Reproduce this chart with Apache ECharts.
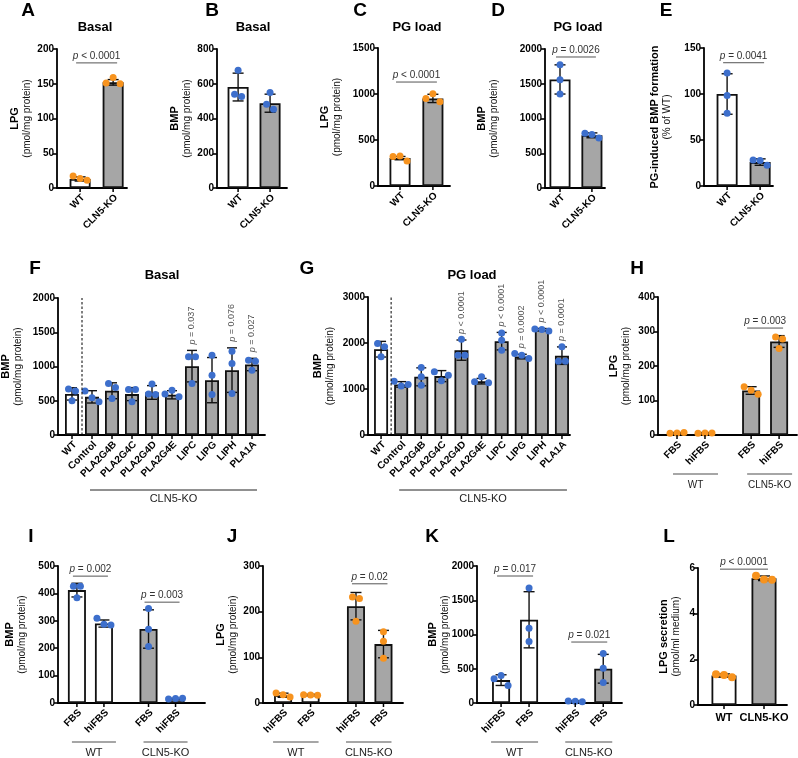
<!DOCTYPE html>
<html><head><meta charset="utf-8">
<script src="https://cdn.jsdelivr.net/npm/echarts@6/dist/echarts.min.js"></script>
<style>html,body{margin:0;padding:0;background:#fff}#c{width:798px;height:758px}</style>
</head><body><div id="c"></div>
<script>
// ---------------- DATA ----------------
const catsA = ['WT', 'CLN5-KO'];
const meanA = [13, 152];
const sdA = [3, 4];
const ptsA = [[17.3, 13.5, 11.1], [151, 159, 150]];
const brA = [[0, 1, 180, 'p < 0.0001']];

const catsB = ['WT', 'CLN5-KO'];
const meanB = [581, 488];
const sdB = [80, 52];
const ptsB = [[677, 540, 526], [549, 482, 453]];

const catsC = ['WT', 'CLN5-KO'];
const meanC = [303, 952];
const sdC = [18, 45];
const ptsC = [[320, 327, 272], [951, 1002, 915]];
const brC = [[0, 1, 1130, 'p < 0.0001']];

const catsD = ['WT', 'CLN5-KO'];
const meanD = [1562, 758];
const sdD = [210, 35];
const ptsD = [[1774, 1557, 1354], [786, 771, 718]];
const brD = [[0, 1, 1885, 'p = 0.0026']];

const catsE = ['WT', 'CLN5-KO'];
const meanE = [100, 26];
const sdE = [22, 3.5];
const ptsE = [[122.8, 98.5, 79.2], [28.3, 27.6, 22.5]];
const brE = [[0, 1, 134, 'p = 0.0041']];

const catsF = ['WT', 'Control', 'PLA2G4B', 'PLA2G4C', 'PLA2G4D', 'PLA2G4E', 'LIPC', 'LIPG', 'LIPH', 'PLA1A'];
const meanF = [600, 557, 646, 597, 621, 587, 1005, 801, 947, 1029];
const sdF = [90, 90, 116, 95, 100, 60, 230, 330, 325, 90];
const ptsF = [[670, 500, 641], [641, 544, 485], [752, 694, 534], [665, 665, 485], [743, 597, 592],
              [597, 655, 558], [1141, 1141, 752], [1165, 874, 592], [1223, 1044, 607], [1092, 1078, 947]];
const pF = ['', '', '', '', '', '', 'p = 0.037', '', 'p = 0.076', 'p = 0.027'];

const catsG = ['WT', 'Control', 'PLA2G4B', 'PLA2G4C', 'PLA2G4D', 'PLA2G4E', 'LIPC', 'LIPG', 'LIPH', 'PLA1A'];
const meanG = [1865, 1100, 1265, 1280, 1845, 1170, 2040, 1705, 2290, 1725];
const sdG = [170, 60, 195, 120, 220, 60, 190, 50, 25, 190];
const ptsG = [[1988, 1916, 1699], [1171, 1063, 1099], [1467, 1265, 1084], [1373, 1178, 1301], [2082, 1735, 1735],
              [1157, 1265, 1135], [2219, 2060, 1843], [1771, 1735, 1663], [2306, 2292, 2263], [1916, 1605, 1605]];
const pG = ['', '', '', '', 'p < 0.0001', '', 'p < 0.0001', 'p = 0.0002', 'p < 0.0001', 'p = 0.0001'];

const catsH = ['FBS', 'hiFBS', 'FBS', 'hiFBS'];
const meanH = [6, 6, 129, 271];
const sdH = [1, 1, 11, 17];
const ptsH = [[5, 6, 7], [5, 6, 6], [140, 130, 118], [284, 278, 251]];
const brH = [[2, 3, 310, 'p = 0.003']];

const catsI = ['FBS', 'hiFBS', 'FBS', 'hiFBS'];
const meanI = [412, 290, 270, 16];
const sdI = [25, 13, 70, 1];
const ptsI = [[426, 426, 384], [309, 287, 285], [345, 269, 206], [15, 16, 17]];
const brI = [[0, 1, 463, 'p = 0.002'], [2, 3, 368, 'p = 0.003']];

const catsJ = ['hiFBS', 'FBS', 'hiFBS', 'FBS'];
const meanJ = [17, 18, 212, 129];
const sdJ = [4.5, 1, 30, 30];
const ptsJ = [[22, 18, 13], [18, 17.4, 16.7], [232, 229, 179], [156, 135, 98]];
const brJ = [[2, 3, 261, 'p = 0.02']];

const catsK = ['hiFBS', 'FBS', 'hiFBS', 'FBS'];
const meanK = [334, 1215, 25, 500];
const sdK = [78, 410, 5, 210];
const ptsK = [[354, 402, 257], [1680, 1090, 896], [30, 25, 20], [722, 508, 300]];
const brK = [[0, 1, 1854, 'p = 0.017'], [2, 3, 890, 'p = 0.021']];

const catsL = ['WT', 'CLN5-KO'];
const meanL = [1.29, 5.55];
const sdL = [0.07, 0.1];
const ptsL = [[1.35, 1.31, 1.21], [5.66, 5.50, 5.49]];
const brL = [[0, 1, 5.95, 'p < 0.0001']];

const groupsFG = [[1, 9, 'CLN5-KO']];
const groupsHK = [[0, 1, 'WT'], [2, 3, 'CLN5-KO']];

// ---------------- STYLE / LAYOUT ----------------
const FONT = 'Liberation Sans, Arial, Helvetica, sans-serif';
const WHITE = '#ffffff', GRAY = '#a6a6a6', ORANGE = '#f7931e', BLUE = '#3d6fcc';
const GROUP_GAP = 2.65;
const AXW = 1.8;
const nm = (b, n) => '{b|' + b + '}\n{n|' + n + '}';
const PM = '(pmol/mg protein)';

const panels = [
  {grid:[57,49,70,139], ymax:200, yint:50, xr:[-0.7,1.42], barW:21, cap:11, gap:23, name:nm('LPG',PM), cats:catsA, mean:meanA, sd:sdA, pts:ptsA, br:brA, fills:[WHITE,GRAY], dot:ORANGE},
  {grid:[217,49,70,139], ymax:800, yint:200, xr:[-0.66,1.53], barW:21, cap:11, gap:23, name:nm('BMP',PM), cats:catsB, mean:meanB, sd:sdB, pts:ptsB, fills:[WHITE,GRAY], dot:BLUE},
  {grid:[378,48,72,138], ymax:1500, yint:500, xr:[-0.67,1.52], barW:21, cap:11, gap:34, name:nm('LPG',PM), cats:catsC, mean:meanC, sd:sdC, pts:ptsC, br:brC, fills:[WHITE,GRAY], dot:ORANGE},
  {grid:[545,49,60,139], ymax:2000, yint:500, xr:[-0.47,1.41], barW:21, cap:11, gap:44, name:nm('BMP',PM), cats:catsD, mean:meanD, sd:sdD, pts:ptsD, br:brD, fills:[WHITE,GRAY], dot:BLUE},
  {grid:[704,48,69,138], ymax:150, yint:50, xr:[-0.70,1.39], barW:21, cap:11, gap:30, name:nm('PG-induced BMP formation','(% of WT)'), cats:catsE, mean:meanE, sd:sdE, pts:ptsE, br:brE, fills:[WHITE,GRAY], dot:BLUE},
  {grid:[58,298,207,137], ymax:2000, yint:500, xr:[-0.7,9.65], barW:14, cap:10, gap:33, name:nm('BMP',PM), cats:catsF, mean:meanF, sd:sdF, pts:ptsF, vp:pF, divider:true, groups:groupsFG, gstyle:'fg', fills:[WHITE].concat(Array(9).fill(GRAY)), dot:BLUE},
  {grid:[368,297,202,138], ymax:3000, yint:1000, xr:[-0.65,9.4], barW:14, cap:10, gap:31, name:nm('BMP',PM), cats:catsG, mean:meanG, sd:sdG, pts:ptsG, vp:pG, divider:true, groups:groupsFG, gstyle:'fg', fills:[WHITE].concat(Array(9).fill(GRAY)), dot:BLUE},
  {grid:[658,297,139,138], ymax:400, yint:100, xr:[-0.68,4.29], barW:18, cap:11, gap:25, name:nm('LPG',PM), cats:catsH, mean:meanH, sd:sdH, pts:ptsH, br:brH, grouped:true, groups:groupsHK, gstyle:'hk', gfont:10, gpad:[-4,13], fills:[WHITE,WHITE,GRAY,GRAY], dot:ORANGE},
  {grid:[58,566,147,137], ymax:500, yint:100, xr:[-0.7,4.74], barW:18, cap:11, gap:29, name:nm('BMP',PM), cats:catsI, mean:meanI, sd:sdI, pts:ptsI, br:brI, grouped:true, groups:groupsHK, gstyle:'hk', gfont:11, gpad:[-5,12], fills:[WHITE,WHITE,GRAY,GRAY], dot:BLUE},
  {grid:[263,566,140,137], ymax:300, yint:100, xr:[-0.73,4.36], barW:18, cap:11, gap:23, name:nm('LPG',PM), cats:catsJ, mean:meanJ, sd:sdJ, pts:ptsJ, br:brJ, grouped:true, groups:groupsHK, gstyle:'hk', gfont:11, gpad:[-10,8], fills:[WHITE,WHITE,GRAY,GRAY], dot:ORANGE},
  {grid:[477,566,145,137], ymax:2000, yint:500, xr:[-0.86,4.32], barW:18, cap:11, gap:25, name:nm('BMP',PM), cats:catsK, mean:meanK, sd:sdK, pts:ptsK, br:brK, grouped:true, groups:groupsHK, gstyle:'hk', gfont:11, gpad:[-10,9], fills:[WHITE,WHITE,GRAY,GRAY], dot:BLUE},
  {grid:[698,568,89,137], ymax:6, yint:2, xr:[-0.65,1.575], barW:25, cap:12, gap:15, name:nm('LPG secretion','(pmol/ml medium)'), cats:catsL, mean:meanL, sd:sdL, pts:ptsL, br:brL, flat:true, fills:[WHITE,GRAY], dot:ORANGE, dotR:4}
];

panels.forEach(P => {
  P.xs = P.cats.map((c, i) => P.grouped ? Math.floor(i / 2) * GROUP_GAP + (i % 2) : i);
  P.dotR = P.dotR || 3.5;
});

function clusterOffsets(pys, thr, d) {
  const idx = pys.map((y, i) => i).sort((a, b) => pys[a] - pys[b]);
  const clusters = []; let cur = [idx[0]];
  for (let k = 1; k < idx.length; k++) {
    if (pys[idx[k]] - pys[idx[k - 1]] < thr) cur.push(idx[k]); else { clusters.push(cur); cur = [idx[k]]; }
  }
  clusters.push(cur);
  const off = new Array(pys.length).fill(0);
  clusters.forEach(c => { c.sort((a, b) => a - b); c.forEach((ii, k) => { off[ii] = (k - (c.length - 1) / 2) * d; }); });
  return off;
}

function pRich(t) { return '{i|p}' + t.slice(1); }

function errPtsRender(P) {
  return function (params, api) {
    const i = params.dataIndex;
    const x = api.value(0), m = api.value(1), s = api.value(2);
    const top = api.coord([x, m + s]), bot = api.coord([x, Math.max(0, m - s)]);
    const cw = P.cap / 2;
    const ls = {stroke: '#111', lineWidth: 1.4};
    const ch = [
      {type: 'line', shape: {x1: top[0], y1: top[1], x2: bot[0], y2: bot[1]}, style: ls},
      {type: 'line', shape: {x1: top[0] - cw, y1: top[1], x2: top[0] + cw, y2: top[1]}, style: ls},
      {type: 'line', shape: {x1: bot[0] - cw, y1: bot[1], x2: bot[0] + cw, y2: bot[1]}, style: ls}
    ];
    const pts = P.pts[i];
    const pys = pts.map(v => api.coord([x, v])[1]);
    const d = P.dotR * 2;
    const offs = clusterOffsets(pys, d * 0.95, d);
    pts.forEach((v, k) => ch.push({type: 'circle', shape: {cx: top[0] + offs[k], cy: pys[k], r: P.dotR}, style: {fill: P.dot}}));
    return {type: 'group', children: ch};
  };
}

function labelRender(P) {
  return function (params, api) {
    const i = params.dataIndex;
    const p = api.coord([api.value(0), 0]);
    const ch = [{type: 'line', shape: {x1: p[0], y1: p[1], x2: p[0], y2: p[1] + 4}, style: {stroke: '#000', lineWidth: 1.5}}];
    if (P.flat) {
      ch.push({type: 'text', x: p[0], y: p[1] + 7, style: {text: P.cats[i], align: 'center', verticalAlign: 'top', fontSize: 11, fontWeight: 'bold', fontFamily: FONT, fill: '#000'}});
    } else {
      ch.push({type: 'text', x: p[0] + 3, y: p[1] + 8, rotation: Math.PI / 4, style: {text: P.cats[i], align: 'right', verticalAlign: 'middle', fontSize: 10, fontWeight: 'bold', fontFamily: FONT, fill: '#000'}});
    }
    return {type: 'group', children: ch};
  };
}

function annoRender(P) {
  return function (params, api) {
    const ch = [];
    (P.br || []).forEach(([a, b, y, t]) => {
      const pa = api.coord([P.xs[a], y]), pb = api.coord([P.xs[b], y]);
      const x1 = pa[0] - 4, x2 = pb[0] + 4;
      ch.push({type: 'line', shape: {x1: x1, y1: pa[1], x2: x2, y2: pa[1]}, style: {stroke: '#555', lineWidth: 1}});
      ch.push({type: 'text', x: (x1 + x2) / 2, y: pa[1] - 1.5, style: {text: pRich(t), align: 'center', verticalAlign: 'bottom', fontSize: 10, fontFamily: FONT, fill: '#333',
        rich: {i: {fontStyle: 'italic', fontSize: 10, fontFamily: FONT, fill: '#333'}}}});
    });
    (P.vp || []).forEach((t, i) => {
      if (!t) return;
      const p = api.coord([P.xs[i], P.mean[i] + P.sd[i]]);
      ch.push({type: 'text', x: p[0], y: p[1] - 6, rotation: Math.PI / 2, style: {text: pRich(t), align: 'left', verticalAlign: 'middle', fontSize: 9, fontFamily: FONT, fill: '#555',
        rich: {i: {fontStyle: 'italic', fontSize: 9, fontFamily: FONT, fill: '#555'}}}});
    });
    if (P.divider) {
      const p0 = api.coord([0.5, 0]), p1 = api.coord([0.5, P.ymax]);
      ch.push({type: 'line', shape: {x1: p0[0], y1: p0[1], x2: p1[0], y2: p1[1]}, style: {stroke: '#000', lineWidth: 1, lineDash: [2.5, 2]}});
    }
    (P.groups || []).forEach(([i1, i2, name]) => {
      const a = api.coord([P.xs[i1], 0]), b = api.coord([P.xs[i2], 0]);
      if (P.gstyle === 'fg') {
        const x1 = a[0] - 2, x2 = b[0] + 5, y = a[1] + 55;
        ch.push({type: 'line', shape: {x1: x1, y1: y, x2: x2, y2: y}, style: {stroke: '#222', lineWidth: 1}});
        ch.push({type: 'text', x: (x1 + x2) / 2, y: y + 9, style: {text: name, align: 'center', verticalAlign: 'middle', fontSize: 11, fontFamily: FONT, fill: '#222'}});
      } else {
        const x1 = a[0] + P.gpad[0], x2 = b[0] + P.gpad[1], y = a[1] + 39;
        ch.push({type: 'line', shape: {x1: x1, y1: y, x2: x2, y2: y}, style: {stroke: '#888', lineWidth: 1.5}});
        ch.push({type: 'text', x: (x1 + x2) / 2, y: y + 11, style: {text: name, align: 'center', verticalAlign: 'middle', fontSize: P.gfont, fontFamily: FONT, fill: '#222'}});
      }
    });
    return {type: 'group', children: ch};
  };
}

// ---------------- BUILD OPTION ----------------
const grids = [], xAxes = [], yAxes = [], series = [];
panels.forEach((P, k) => {
  const [l, t, w, h] = P.grid;
  grids.push({left: l, top: t, width: w, height: h, outerBoundsMode: 'none', containLabel: false});
  xAxes.push({type: 'value', gridIndex: k, min: P.xr[0], max: P.xr[1],
    axisLine: {show: true, onZero: false, lineStyle: {color: '#000', width: AXW}},
    axisTick: {show: false}, axisLabel: {show: false}, splitLine: {show: false}});
  yAxes.push({type: 'value', gridIndex: k, min: 0, max: P.ymax, interval: P.yint,
    axisLine: {show: true, onZero: false, lineStyle: {color: '#000', width: AXW}},
    axisTick: {show: true, length: 4, lineStyle: {color: '#000', width: 1.6}},
    axisLabel: {fontSize: 10, fontWeight: 'bold', color: '#000', fontFamily: FONT, margin: 3, formatter: v => String(v)},
    splitLine: {show: false},
    name: P.name, nameLocation: 'middle', nameRotate: 90, nameGap: P.gap, nameMoveOverlap: false,
    nameTextStyle: {fontFamily: FONT, color: '#000', rich: {
      b: {fontSize: 11, fontWeight: 'bold', fontFamily: FONT, color: '#000', lineHeight: 13, align: 'center'},
      n: {fontSize: 10, fontFamily: FONT, color: '#111', lineHeight: 13, align: 'center'}}}});
  series.push({type: 'bar', xAxisIndex: k, yAxisIndex: k, barWidth: P.barW, silent: true, z: 2,
    data: P.mean.map((m, i) => ({value: [P.xs[i], m], itemStyle: {color: P.fills[i], borderColor: '#111', borderWidth: 1.8}}))});
  series.push({type: 'custom', xAxisIndex: k, yAxisIndex: k, silent: true, clip: false, z: 5,
    renderItem: errPtsRender(P), encode: {x: 0, y: 1},
    data: P.mean.map((m, i) => [P.xs[i], m, P.sd[i]])});
  series.push({type: 'custom', xAxisIndex: k, yAxisIndex: k, silent: true, clip: false, z: 5,
    renderItem: labelRender(P), encode: {x: 0, y: 1},
    data: P.xs.map(x => [x, 0])});
  series.push({type: 'custom', xAxisIndex: k, yAxisIndex: k, silent: true, clip: false, z: 5,
    renderItem: annoRender(P), encode: {x: 0, y: 1}, data: [[0, 0]]});
});

const letters = [['A',28,11],['B',212,11],['C',360,11],['D',498,11],['E',666,11],['F',35,269],['G',307,269],['H',637,269],['I',31,537],['J',232,537],['K',432,537],['L',669,537]];
const subtitles = [['Basal',95,27],['Basal',253,27],['PG load',417,27],['PG load',578,27],['Basal',162,275],['PG load',472,275]];
const graphics = [];
letters.forEach(([t, x, y]) => graphics.push({type: 'text', x: x, y: y, silent: true, style: {text: t, align: 'center', verticalAlign: 'middle', fontSize: 19, fontWeight: 'bold', fontFamily: FONT, fill: '#000'}}));
subtitles.forEach(([t, x, y]) => graphics.push({type: 'text', x: x, y: y, silent: true, style: {text: t, align: 'center', verticalAlign: 'middle', fontSize: 13, fontWeight: 'bold', fontFamily: FONT, fill: '#000'}}));

const chart = echarts.init(document.getElementById('c'), null, {renderer: 'canvas'});
chart.setOption({
  animation: false,
  backgroundColor: '#fff',
  textStyle: {fontFamily: FONT},
  grid: grids, xAxis: xAxes, yAxis: yAxes, series: series, graphic: graphics
});
</script></body></html>
